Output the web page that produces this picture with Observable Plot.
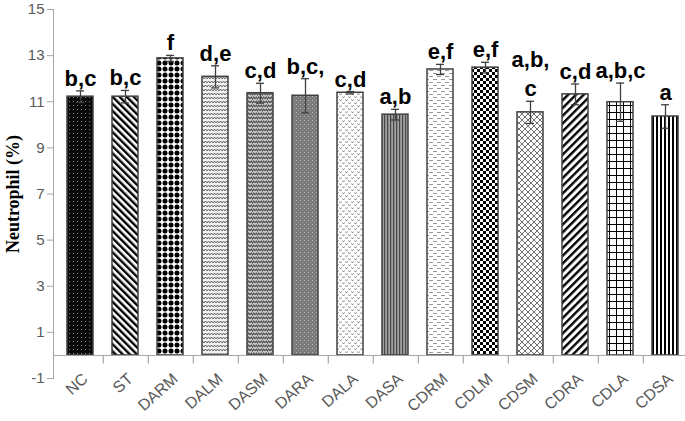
<!DOCTYPE html>
<html>
<head>
<meta charset="utf-8">
<script src="https://cdn.jsdelivr.net/npm/d3@7"></script>
<script src="https://cdn.jsdelivr.net/npm/@observablehq/plot@0.6"></script>
<style>
  html, body { margin: 0; padding: 0; background: #fff; }
  #chart svg { display: block; overflow: visible; }
  g[aria-label="y-axis label"] text { font-family: "Liberation Serif", serif; font-weight: bold; font-size: 18px; fill: #000; }
</style>
</head>
<body>
<div id="chart"></div>
<script>
const categories = ["NC","ST","DARM","DALM","DASM","DARA","DALA","DASA","CDRM","CDLM","CDSM","CDRA","CDLA","CDSA"];
const means = [11.22, 11.22, 12.88, 12.08, 11.37, 11.26, 11.39, 10.44, 12.40, 12.48, 10.54, 11.32, 10.98, 10.36];
const errors = [0.25, 0.27, 0.13, 0.48, 0.43, 0.74, 0.05, 0.23, 0.22, 0.23, 0.48, 0.45, 0.83, 0.51];
const letters = ["b,c","b,c","f","d,e","c,d","b,c,","c,d","a,b","e,f","e,f","a,b,\nc","c,d","a,b,c","a"];
const yTicks = [-1, 1, 3, 5, 7, 9, 11, 13, 15];
const yLabel = "Neutrophil (%)";

const data = categories.map((c, i) => ({cat: c, mean: means[i], err: errors[i], letter: letters[i], pat: `url(#pat${i})`}));

const axisGray = "#a6a6a6";
const textGray = "#595959";
const barStroke = "#404040";

const svg = Plot.plot({
  width: 685,
  height: 421,
  marginLeft: 53,
  marginRight: -7,
  marginTop: 9,
  marginBottom: 43,
  style: {fontFamily: "Liberation Sans, Arial, sans-serif", background: "#fff"},
  x: {domain: categories, paddingInner: 0.43, paddingOuter: 0.215, label: null},
  y: {domain: [-1, 15], label: null},
  color: {type: "identity"},
  marks: [
    Plot.frame({anchor: "left", stroke: axisGray, strokeWidth: 1}),
    Plot.axisY({ticks: yTicks, tickSize: 6, tickPadding: 3, tickFormat: d => String(d), fontSize: 15, stroke: axisGray, fill: textGray,
      label: yLabel, labelAnchor: "center", labelArrow: "none", labelOffset: 47}),
    Plot.axisX({tickSize: 0, tickPadding: 0, tickRotate: -42, fontSize: 16, fill: textGray, dx: 5, dy: -2, label: null}),
    Plot.barY(data, {x: "cat", y1: 0, y2: "mean", fill: "pat", stroke: barStroke, strokeWidth: 1.5}),
    Plot.ruleY([0], {stroke: axisGray, strokeWidth: 1}),
    Plot.ruleX(categories.slice(0, -1), {x: d => d, y1: 0, y2: -0.37, dx: 22.8, stroke: axisGray, strokeWidth: 1.2}),
    Plot.ruleX(data, {x: "cat", y1: d => d.mean - d.err, y2: d => d.mean + d.err, stroke: barStroke, strokeWidth: 1.3}),
    Plot.tickY(data, {x: "cat", y: d => d.mean - d.err, insetLeft: 9, insetRight: 9, stroke: barStroke, strokeWidth: 1.3}),
    Plot.tickY(data, {x: "cat", y: d => d.mean + d.err, insetLeft: 9, insetRight: 9, stroke: barStroke, strokeWidth: 1.3}),
    Plot.text(data, {x: "cat", y: d => d.mean + d.err, text: "letter", lineAnchor: "bottom", dy: -5, lineHeight: 1.35,
      fontSize: 22, fontWeight: "bold", fill: "#000", fontFamily: "Liberation Sans, Arial, sans-serif"})
  ]
});

// Fill patterns for the bars
const defs = d3.select(svg).insert("defs", ":first-child");
function pat(id, w, h, build, transform) {
  const p = defs.append("pattern").attr("id", id).attr("patternUnits", "userSpaceOnUse").attr("width", w).attr("height", h);
  if (transform) p.attr("patternTransform", transform);
  build(p);
}
// 0 NC: black with small gray dots
pat("pat0", 4, 4, p => {
  p.append("rect").attr("width", 4).attr("height", 4).attr("fill", "#0a0a0a");
  p.append("rect").attr("x", 1).attr("y", 1).attr("width", 1).attr("height", 1).attr("fill", "#8a8a8a");
});
// 1 ST: downward diagonal stripes
pat("pat1", 5, 5, p => {
  p.append("rect").attr("width", 5).attr("height", 5).attr("fill", "#fff");
  p.append("rect").attr("width", 2.4).attr("height", 5).attr("fill", "#000");
}, "rotate(-45)");
// 2 DARM: black blobs grid
pat("pat2", 6, 6, p => {
  p.append("rect").attr("width", 6).attr("height", 6).attr("fill", "#fff");
  p.append("circle").attr("cx", 3).attr("cy", 3).attr("r", 2.5).attr("fill", "#000");
});
// 3 DALM: light zigzag
pat("pat3", 6, 4, p => {
  p.append("rect").attr("width", 6).attr("height", 4).attr("fill", "#f2f2f2");
  p.append("path").attr("d", "M0,3 L1.5,1 L3,3 L4.5,1 L6,3").attr("fill", "none").attr("stroke", "#666").attr("stroke-width", 1);
});
// 4 DASM: denser darker weave
pat("pat4", 5, 4, p => {
  p.append("rect").attr("width", 5).attr("height", 4).attr("fill", "#cfcfcf");
  p.append("path").attr("d", "M0,3 L1.25,1 L2.5,3 L3.75,1 L5,3").attr("fill", "none").attr("stroke", "#505050").attr("stroke-width", 1.1);
});
// 5 DARA: dark gray with light dots
pat("pat5", 4, 4, p => {
  p.append("rect").attr("width", 4).attr("height", 4).attr("fill", "#7a7a7a");
  p.append("rect").attr("x", 0).attr("y", 0).attr("width", 1).attr("height", 1).attr("fill", "#b8b8b8");
  p.append("rect").attr("x", 2).attr("y", 2).attr("width", 1).attr("height", 1).attr("fill", "#9a9a9a");
});
// 6 DALA: white with small gray chevrons
pat("pat6", 6, 6, p => {
  p.append("rect").attr("width", 6).attr("height", 6).attr("fill", "#fff");
  p.append("path").attr("d", "M0.5,0.5 L1.5,2 L2.5,0.5 M3.5,3.5 L4.5,5 L5.5,3.5").attr("fill", "none").attr("stroke", "#777").attr("stroke-width", 0.9);
});
// 7 DASA: dense vertical gray lines
pat("pat7", 3, 3, p => {
  p.append("rect").attr("width", 3).attr("height", 3).attr("fill", "#a0a0a0");
  p.append("rect").attr("width", 1.2).attr("height", 3).attr("fill", "#474747");
});
// 8 CDRM: dashed horizontal lines
pat("pat8", 8, 6, p => {
  p.append("rect").attr("width", 8).attr("height", 6).attr("fill", "#fff");
  p.append("rect").attr("x", 1).attr("y", 1).attr("width", 4).attr("height", 1).attr("fill", "#999");
  p.append("rect").attr("x", 5).attr("y", 4).attr("width", 4).attr("height", 1).attr("fill", "#999");
  p.append("rect").attr("x", -3).attr("y", 4).attr("width", 4).attr("height", 1).attr("fill", "#999");
});
// 9 CDLM: small checkerboard
pat("pat9", 6, 6, p => {
  p.append("rect").attr("width", 6).attr("height", 6).attr("fill", "#fff");
  p.append("rect").attr("width", 3).attr("height", 3).attr("fill", "#000");
  p.append("rect").attr("x", 3).attr("y", 3).attr("width", 3).attr("height", 3).attr("fill", "#000");
});
// 10 CDSM: diagonal crosshatch
pat("pat10", 6, 6, p => {
  p.append("rect").attr("width", 6).attr("height", 6).attr("fill", "#fff");
  p.append("path").attr("d", "M0,0 L6,6 M6,0 L0,6").attr("stroke", "#707070").attr("stroke-width", 1);
});
// 11 CDRA: upward diagonal stripes
pat("pat11", 5.5, 5.5, p => {
  p.append("rect").attr("width", 5.5).attr("height", 5.5).attr("fill", "#fff");
  p.append("rect").attr("width", 2.4).attr("height", 5.5).attr("fill", "#000");
}, "rotate(45)");
// 12 CDLA: square grid
pat("pat12", 7, 7, p => {
  p.append("rect").attr("width", 7).attr("height", 7).attr("fill", "#fff");
  p.append("path").attr("d", "M0.5,0 V7 M0,0.5 H7").attr("stroke", "#000").attr("stroke-width", 1);
});
// 13 CDSA: vertical black lines
pat("pat13", 4, 4, p => {
  p.append("rect").attr("width", 4).attr("height", 4).attr("fill", "#fff");
  p.append("rect").attr("width", 2).attr("height", 4).attr("fill", "#000");
});

document.getElementById("chart").appendChild(svg);
</script>
</body>
</html>
